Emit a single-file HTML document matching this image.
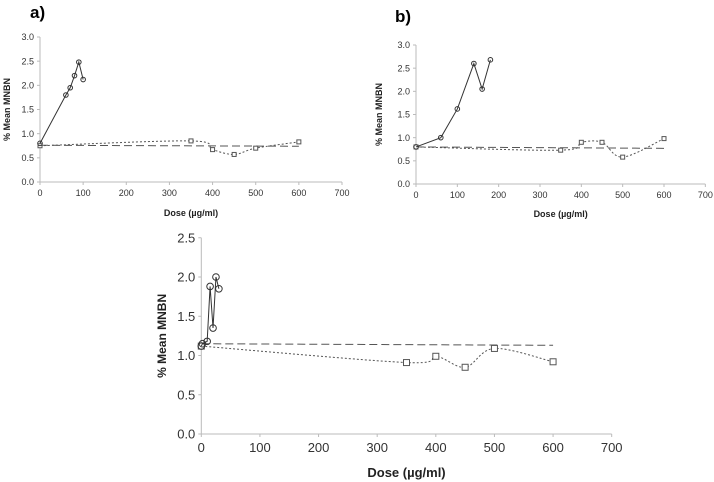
<!DOCTYPE html>
<html><head><meta charset="utf-8">
<style>
body{margin:0;background:#fff;width:714px;height:482px;overflow:hidden;font-family:"Liberation Sans",sans-serif;}
svg{position:absolute;left:0;top:0;}
</style></head>
<body>
<svg id="chart" width="714" height="482" xmlns="http://www.w3.org/2000/svg"></svg>
<script>
// Panel a data
const aCircleX = [0, 60, 70, 80, 90, 100];
const aCircleY = [0.8, 1.8, 1.95, 2.2, 2.48, 2.12];
const aSquareX = [0, 350, 400, 450, 500, 600];
const aSquareY = [0.75, 0.85, 0.67, 0.57, 0.7, 0.83];
const aTrend = [0.76, 0.74];
// Panel b data
const bCircleX = [0, 60, 100, 140, 160, 180];
const bCircleY = [0.8, 1.0, 1.62, 2.6, 2.05, 2.68];
const bSquareX = [0, 350, 400, 450, 500, 600];
const bSquareY = [0.8, 0.73, 0.9, 0.9, 0.58, 0.98];
const bTrend = [0.8, 0.77];
// Panel c data
const cCircleX = [0, 2, 10, 15, 20, 25, 30];
const cCircleY = [1.12, 1.15, 1.18, 1.88, 1.35, 2.0, 1.85];
const cSquareX = [0, 350, 400, 450, 500, 600];
const cSquareY = [1.12, 0.91, 0.99, 0.85, 1.09, 0.92];
const cTrend = [1.15, 1.13];
const xTicks = [0, 100, 200, 300, 400, 500, 600, 700];
const yTicksAB = [0, 0.5, 1.0, 1.5, 2.0, 2.5, 3.0];
const yTicksC = [0, 0.5, 1.0, 1.5, 2.0, 2.5];

const svg = document.getElementById('chart');
const NS = 'http://www.w3.org/2000/svg';
function mk(tag, attrs, parent){
  const e = document.createElementNS(NS, tag);
  for (const k in attrs) e.setAttribute(k, attrs[k]);
  (parent||svg).appendChild(e);
  return e;
}
function smoothPath(pts){
  let d = 'M' + pts[0][0] + ',' + pts[0][1];
  for (let i = 0; i < pts.length - 1; i++){
    const p0 = pts[i-1]||pts[i], p1 = pts[i], p2 = pts[i+1], p3 = pts[i+2]||p2;
    const c1 = [p1[0]+(p2[0]-p0[0])/6, p1[1]+(p2[1]-p0[1])/6];
    const c2 = [p2[0]-(p3[0]-p1[0])/6, p2[1]-(p3[1]-p1[1])/6];
    d += ' C' + c1 + ' ' + c2 + ' ' + p2;
  }
  return d;
}
function panel(cfg){
  const g = mk('g', {});
  
  
  const X = v => cfg.x0 + v * cfg.xs;
  const Y = v => cfg.y0 - v * cfg.ys;
  const ymax = cfg.yTicks[cfg.yTicks.length-1];
  const xa = mk('line', {x1:X(0), y1:cfg.y0, x2:X(700), y2:cfg.y0, stroke:'#bbb', 'stroke-width':1}, g);
  
  
  const ya = mk('line', {x1:X(0), y1:cfg.y0, x2:X(0), y2:Y(ymax), stroke:'#bbb', 'stroke-width':1}, g);
  
  
  xTicks.forEach(t => {
    mk('line', {x1:X(t), y1:cfg.y0, x2:X(t), y2:cfg.y0+3, stroke:'#bbb'}, g);
    const tx = mk('text', {x:X(t), y:cfg.y0+cfg.fs+5, 'font-size':cfg.fs, fill:'#333', 'text-anchor':'middle'}, g);
    tx.textContent = t;
    
    
  });
  cfg.yTicks.forEach(t => {
    mk('line', {x1:X(0)-3, y1:Y(t), x2:X(0), y2:Y(t), stroke:'#bbb'}, g);
    const tx = mk('text', {x:X(0)-6, y:Y(t)+cfg.fs*0.35, 'font-size':cfg.fs, fill:'#333', 'text-anchor':'end'}, g);
    tx.textContent = t.toFixed(1);
    
    
  });
  const xt = mk('text', {x:X(350), y:cfg.xTitleY, 'font-size':cfg.tfs, 'font-weight':'bold', fill:'#222', 'text-anchor':'middle'}, g);
  xt.textContent = 'Dose (µg/ml)';
  
  
  const yt = mk('text', {x:0, y:0, 'font-size':cfg.ytfs, 'font-weight':'bold', fill:'#222', 'text-anchor':'middle',
    transform:'translate(' + cfg.yTitleX + ',' + Y(ymax/2) + ') rotate(-90)'}, g);
  yt.textContent = '% Mean MNBN';
  
  
  if (cfg.label){
    const lb = mk('text', {x:cfg.label[0], y:cfg.label[1], 'font-size':17, 'font-weight':'bold', fill:'#000'}, g);
    lb.textContent = cfg.label[2];
    
    
  }
  const tr = mk('line', {x1:X(0), y1:Y(cfg.trend[0]), x2:X(600), y2:Y(cfg.trend[1]), stroke:'#555', 'stroke-width':1, 'stroke-dasharray':'8,4'}, g);
  
  
  const sp = cfg.sx.map((v,i) => [X(v), Y(cfg.sy[i])]);
  const sl = mk('path', {d:smoothPath(sp), fill:'none', stroke:'#555', 'stroke-width':1, 'stroke-dasharray':'2,2'}, g);
  
  
  sp.forEach(p => {
    const r = mk('rect', {x:p[0]-cfg.ms/2, y:p[1]-cfg.ms/2, width:cfg.ms, height:cfg.ms, fill:'#fff', stroke:'#555', 'stroke-width':1}, g);
    
    
  });
  const cp = cfg.cx.map((v,i) => [X(v), Y(cfg.cy[i])]);
  const cl = mk('polyline', {points:cp.map(p=>p.join(',')).join(' '), fill:'none', stroke:'#333', 'stroke-width':1}, g);
  
  
  cp.forEach(p => {
    const c = mk('circle', {cx:p[0], cy:p[1], r:cfg.ms/2+0.3, fill:'none', stroke:'#333', 'stroke-width':1}, g);
    
    
  });
}
panel({name:'panel-a', x0:40, xs:(342-40)/700, y0:182, ys:(182-37)/3, yTicks:yTicksAB, fs:9, tfs:9, ytfs:9, ms:4,
  xTitleY:216, yTitleX:10, label:[30,18,'a)'],
  cx:aCircleX, cy:aCircleY, sx:aSquareX, sy:aSquareY, trend:aTrend});
panel({name:'panel-b', x0:416, xs:(664-416)/600, y0:184, ys:(184-45)/3, yTicks:yTicksAB, fs:9, tfs:9, ytfs:9, ms:4,
  xTitleY:217, yTitleX:382, label:[395,22,'b)'],
  cx:bCircleX, cy:bCircleY, sx:bSquareX, sy:bSquareY, trend:bTrend});
panel({name:'panel-c', x0:201.3, xs:(611.7-201.3)/700, y0:434, ys:(434-277)/2, yTicks:yTicksC, fs:13, tfs:13, ytfs:12, ms:6,
  xTitleY:477, yTitleX:166, label:null,
  cx:cCircleX, cy:cCircleY, sx:cSquareX, sy:cSquareY, trend:cTrend});
</script>
</body></html>
